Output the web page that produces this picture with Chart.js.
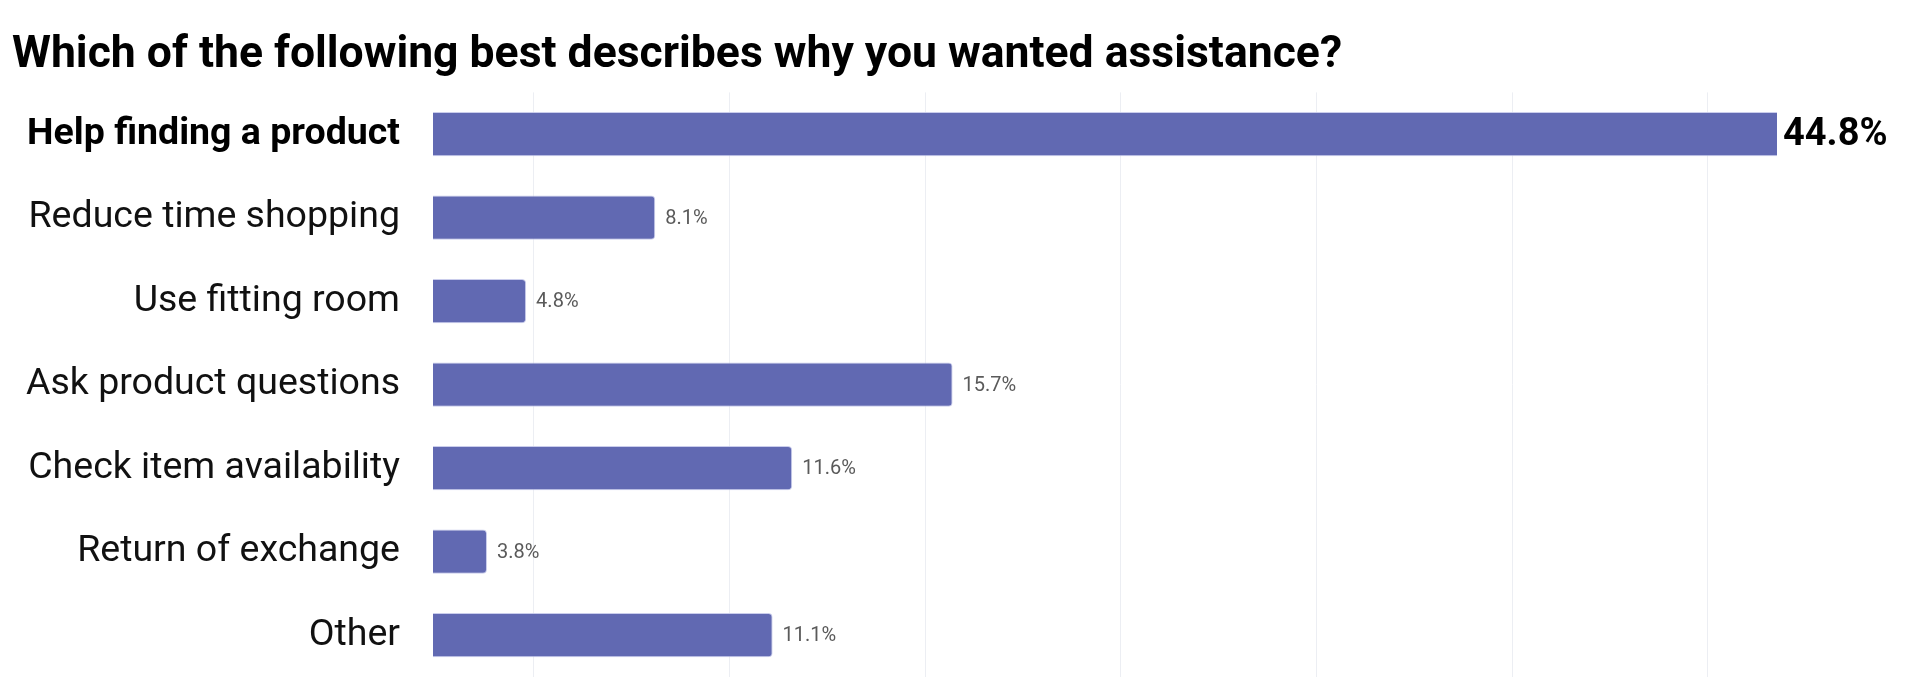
<!DOCTYPE html>
<html lang="en">
<head>
    <meta charset="utf-8"/>
    <title>Assistance reasons</title>
    <script src="https://cdn.jsdelivr.net/npm/chart.js"></script>
    <style>
        html, body { margin: 0; padding: 0; background: #ffffff; }
        #wrap { width: 1911px; height: 684px; }
    </style>
</head>
<body>
<div id="wrap"><canvas id="reasonsChart"></canvas></div>
<script>
    // Survey data
    const categories = [
        'Help finding a product',
        'Reduce time shopping',
        'Use fitting room',
        'Ask product questions',
        'Check item availability',
        'Return of exchange',
        'Other'
    ];
    const shares = [44.8, 8.1, 4.8, 15.7, 11.6, 3.8, 11.1];
    const valueLabels = ['44.8%', '8.1%', '4.8%', '15.7%', '11.6%', '3.8%', '11.1%'];

    const barColor = '#6169b2';

    // draws the percentages next to each bar (top bar runs off the axis, so clamp it)
    const valueLabelPlugin = {
        id: 'valueLabels',
        afterDatasetsDraw(chart) {
            const ctx = chart.ctx;
            const area = chart.chartArea;
            const meta = chart.getDatasetMeta(0);
            ctx.save();
            ctx.textBaseline = 'middle';
            ctx.textAlign = 'left';
            meta.data.forEach((bar, i) => {
                const x = Math.min(bar.x, area.right);
                if (i === 0) {
                    ctx.font = 'bold 38px Roboto';
                    ctx.fillStyle = '#000000';
                    ctx.fillText(valueLabels[i], x + 6, bar.y + 1);
                } else {
                    ctx.font = '20px Roboto';
                    ctx.fillStyle = '#5a5a5a';
                    ctx.fillText(valueLabels[i], x + 10, bar.y + 1);
                }
            });
            ctx.restore();
        }
    };

    new Chart(document.getElementById('reasonsChart'), {
        type: 'bar',
        data: {
            labels: categories,
            datasets: [{
                data: shares,
                backgroundColor: barColor,
                borderColor: 'rgba(196, 200, 234, 0.9)',
                borderWidth: 1,
                borderRadius: 4,
                barPercentage: 0.53,
                categoryPercentage: 1
            }]
        },
        options: {
            indexAxis: 'y',
            responsive: true,
            maintainAspectRatio: false,
            animation: false,
            layout: {
                padding: { left: 12, right: 134, top: 0, bottom: 7 }
            },
            plugins: {
                legend: { display: false },
                tooltip: { enabled: false },
                title: {
                    display: true,
                    text: 'Which of the following best describes why you wanted assistance?',
                    align: 'start',
                    color: '#000000',
                    font: { family: 'Roboto', size: 44.5, weight: 'bold', lineHeight: 1.2 },
                    padding: { top: 29, bottom: 10 }
                }
            },
            scales: {
                x: {
                    min: 2.42,
                    max: 36.77,
                    ticks: { display: false, stepSize: 5, includeBounds: false },
                    grid: { color: '#eceef3', lineWidth: 1, drawTicks: false },
                    border: { display: false }
                },
                y: {
                    grid: { display: false, drawTicks: false },
                    border: { display: false },
                    afterFit(scale) {
                        scale.width = 421;
                        scale.paddingTop = 0;
                        scale.paddingBottom = 0;
                    },
                    ticks: {
                        padding: 33,
                        color: ctx => ctx.index === 0 ? '#000000' : '#111111',
                        font: ctx => ({
                            family: 'Roboto',
                            size: 37.5,
                            weight: ctx.index === 0 ? 'bold' : 'normal'
                        })
                    }
                }
            }
        },
        plugins: [valueLabelPlugin]
    });
</script>
</body>
</html>
